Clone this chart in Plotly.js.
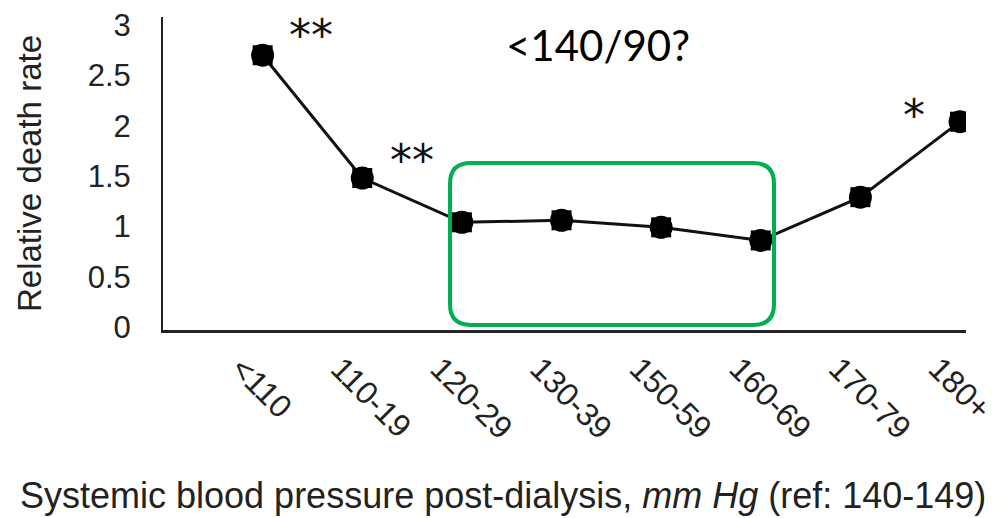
<!DOCTYPE html>
<html>
<head>
<meta charset="utf-8">
<script src="https://cdn.plot.ly/plotly-3.0.1.min.js"></script>
<style>html,body{margin:0;padding:0;background:#fff;}#chart{width:1002px;height:518px;}</style>
</head>
<body>
<div id="chart"></div>
<script>
const categories = ['<110', '110-19', '120-29', '130-39', '150-59', '160-69', '170-79', '180+'];
const deathRate = [2.7, 1.48, 1.04, 1.06, 0.99, 0.86, 1.29, 2.04];
const yTicks = [0, 0.5, 1, 1.5, 2, 2.5, 3];
const yTickLabels = ['0', '0.5', '1', '1.5', '2', '2.5', '3'];
const starLabels = ['**', '**', '', '', '', '', '', '*'];

const FONT = 'Liberation Sans, Arial, Helvetica, sans-serif';

const traces = [
  {
    x: categories, y: deathRate, type: 'scatter', mode: 'lines+markers',
    line: {color: '#111', width: 3},
    marker: {symbol: 'square', size: 20, color: '#000'},
    hoverinfo: 'skip', showlegend: false
  },
  {
    x: categories, y: deathRate, type: 'scatter', mode: 'markers',
    marker: {symbol: 'circle', size: 23, color: '#000'},
    hoverinfo: 'skip', showlegend: false
  }
];

const starShift = {0: [48, 20], 1: [50, 18], 7: [-46, 6]};
const annotations = [];
starLabels.forEach((s, i) => {
  if (!s) return;
  annotations.push({
    x: categories[i], y: deathRate[i], xref: 'x', yref: 'y',
    text: s, showarrow: false,
    xshift: starShift[i][0], yshift: starShift[i][1],
    font: {family: 'DejaVu Sans, sans-serif', size: 44, color: '#111'}
  });
});
annotations.push({
  x: 0.5417, y: 0.91, xref: 'paper', yref: 'paper', xanchor: 'center', yanchor: 'middle',
  text: '&lt;140/90?', showarrow: false,
  font: {family: 'Lato, Open Sans, sans-serif', size: 42, color: '#000'}
});
// x-axis title, placed as in the reference (left of the plot-area centre)
annotations.push({
  x: 0.4234, y: -0.53, xref: 'paper', yref: 'paper', xanchor: 'center', yanchor: 'middle',
  text: 'Systemic blood pressure post-dialysis, <i>mm Hg</i> (ref: 140-149)', showarrow: false,
  font: {family: FONT, size: 36, color: '#222'}
});

// green rounded rectangle (paper coords)
const x0 = 0.3574, x1 = 0.7609, y0 = 0.016, y1 = 0.5335, rx = 0.026, ry = 0.066;
const rr = `M ${x0+rx},${y0} L ${x1-rx},${y0} Q ${x1},${y0} ${x1},${y0+ry} L ${x1},${y1-ry} Q ${x1},${y1} ${x1-rx},${y1} L ${x0+rx},${y1} Q ${x0},${y1} ${x0},${y1-ry} L ${x0},${y0+ry} Q ${x0},${y0} ${x0+rx},${y0} Z`;

const layout = {
  width: 1002, height: 518,
  margin: {l: 163, r: 36, t: 17, b: 188},
  paper_bgcolor: '#fff', plot_bgcolor: '#fff',
  showlegend: false,
  xaxis: {
    type: 'category', range: [-1, 7.06],
    showline: true, linecolor: '#222', linewidth: 3,
    showgrid: false, zeroline: false, ticks: '',
    tickangle: 45, ticklabelshift: -22, ticklabelstandoff: 4,
    tickfont: {family: FONT, size: 32, color: '#222'},
    automargin: false, fixedrange: true
  },
  yaxis: {
    range: [-0.03, 3.08],
    tickvals: yTicks, ticktext: yTickLabels,
    showline: true, linecolor: '#222', linewidth: 2,
    showgrid: false, zeroline: false, ticks: '',
    ticklabelstandoff: 24,
    tickfont: {family: FONT, size: 31, color: '#222'},
    title: {text: 'Relative death rate', font: {family: FONT, size: 33, color: '#222'}, standoff: 36},
    automargin: false, fixedrange: true
  },
  shapes: [{
    type: 'path', xref: 'paper', yref: 'paper', path: rr,
    line: {color: '#00B050', width: 4}, fillcolor: 'rgba(0,0,0,0)'
  }],
  annotations: annotations
};

Plotly.newPlot('chart', traces, layout, {displayModeBar: false, staticPlot: true});
</script>
</body>
</html>
